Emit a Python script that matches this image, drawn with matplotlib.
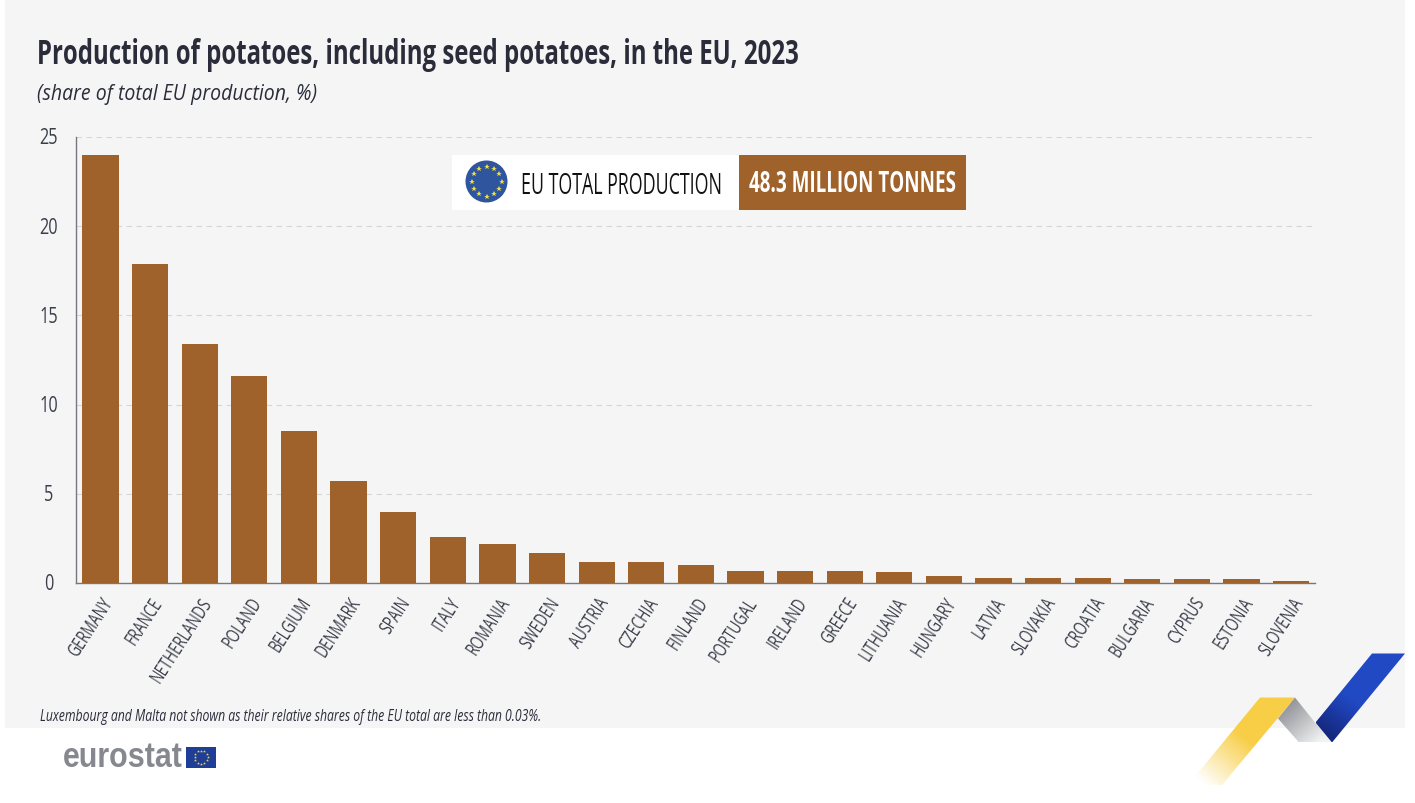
import matplotlib
matplotlib.use("Agg")
import matplotlib.pyplot as plt
import matplotlib.font_manager as fm
from matplotlib.font_manager import FontProperties
from matplotlib.transforms import ScaledTranslation
from fontTools.ttLib import TTFont
import numpy as np
from matplotlib.patches import Rectangle, Circle, Polygon

countries = ["GERMANY","FRANCE","NETHERLANDS","POLAND","BELGIUM","DENMARK","SPAIN","ITALY","ROMANIA","SWEDEN",
             "AUSTRIA","CZECHIA","FINLAND","PORTUGAL","IRELAND","GREECE","LITHUANIA","HUNGARY","LATVIA","SLOVAKIA",
             "CROATIA","BULGARIA","CYPRUS","ESTONIA","SLOVENIA"]
shares = [24.0,17.9,13.4,11.6,8.5,5.7,4.0,2.6,2.2,1.7,1.2,1.2,1.0,0.7,0.7,0.7,0.6,0.4,0.3,0.3,0.3,0.2,0.2,0.2,0.1]
yticks = [0,5,10,15,20,25]
title = "Production of potatoes, including seed potatoes, in the EU, 2023"
subtitle = "(share of total EU production, %)"
note = "Luxembourg and Malta not shown as their relative shares of the EU total are less than 0.03%."

# No condensed family is installed: derive one by scaling glyph widths of an installed font.
_cache = {}
def cond(scale, size, family='Open Sans', weight='normal', style='normal'):
    key = (scale, family, weight, style)
    if key not in _cache:
        src = fm.findfont(FontProperties(family=family, weight=weight, style=style))
        f = TTFont(src)
        glyf = f['glyf']
        for name in glyf.keys():
            g = glyf[name]
            if g.isComposite():
                for c in g.components:
                    c.x = int(round(c.x*scale))
            elif g.numberOfContours > 0:
                g.coordinates.scale((scale, 1))
                g.coordinates.toInt()
                g.recalcBounds(glyf)
        hmtx = f['hmtx']
        for name, (adv, lsb) in list(hmtx.metrics.items()):
            hmtx.metrics[name] = (int(round(adv*scale)), int(round(lsb*scale)))
        for tag in ('fpgm', 'prep', 'cvt ', 'hdmx', 'VDMX', 'LTSH', 'kern', 'GPOS', 'GSUB', 'GDEF', 'DSIG'):
            if tag in f:
                del f[tag]
        for name in glyf.keys():
            g = glyf[name]
            if hasattr(g, 'program'):
                g.program.fromBytecode(b'')
        path = f"cond_{len(_cache)}.ttf"
        f.save(path)
        _cache[key] = path
    return FontProperties(fname=_cache[key], size=size)

W, H = 1415, 804
BROWN = '#A0622B'
INK = '#3a3d4a'
DARK = '#2a2c3a'
fig = plt.figure(figsize=(W/100, H/100), dpi=100, facecolor='white')
bg = fig.add_axes([0,0,1,1]); bg.set_xlim(0,W); bg.set_ylim(H,0); bg.axis('off')
bg.add_patch(Rectangle((5,0),1400,728.5,color='#F5F5F5',lw=0))

ax = fig.add_axes([76/W, 1-584/H, (1315-76)/W, (584-138)/H])
ax.patch.set_alpha(0)
x = np.arange(len(countries))
ax.bar(x, shares, width=0.73, color=BROWN, zorder=3)
ax.set_xlim(-0.494, 24.48); ax.set_ylim(0,25)
ax.set_yticks(yticks); ax.set_yticklabels([str(v) for v in yticks], color=INK, ha='center', fontproperties=cond(0.78, 15))
ax.set_xticks(x); ax.set_xticklabels(countries, rotation=57, ha='right', rotation_mode='anchor', color=INK, fontproperties=cond(0.69, 14.5))
ax.tick_params(axis='both', length=0)
ax.tick_params(axis='y', pad=19.8)
ax.tick_params(axis='x', pad=7.5)
shift = ScaledTranslation(0, 1.5/100, fig.dpi_scale_trans)
for lab in ax.get_yticklabels():
    lab.set_transform(lab.get_transform() + shift)
ax.grid(axis='y', color='#d6d6d6', lw=0.8, ls=(0,(5,4)), zorder=0)
for s in ['top','right']: ax.spines[s].set_visible(False)
for s in ['left','bottom']:
    ax.spines[s].set_color('#77787f'); ax.spines[s].set_linewidth(1)

bg.text(37,64,title,color=DARK,va='baseline',fontproperties=cond(0.705, 24.5, weight='bold'))
bg.text(37,100,subtitle,color=DARK,va='baseline',fontproperties=cond(0.875, 16, style='italic'))
bg.text(40,721.5,note,color=DARK,va='baseline',fontproperties=cond(0.70, 12.6, style='italic'))

# callout drawn above the chart
top = fig.add_axes([0,0,1,1]); top.set_xlim(0,W); top.set_ylim(H,0); top.axis('off'); top.patch.set_alpha(0)
top.add_patch(Rectangle((452,155.5),287,55,color='white',lw=0))
top.add_patch(Rectangle((739,155.5),227,55,color=BROWN,lw=0))
top.add_patch(Circle((486.5,182.5),21,color='#2F559F',lw=0))
for a in np.arange(12)*np.pi/6:
    top.plot(486.5+15*np.sin(a),182.5-15*np.cos(a),marker='*',ms=4.2,color='#F5E13C',mew=0)
top.text(521,193.5,"EU TOTAL PRODUCTION",color='#111111',va='baseline',fontproperties=cond(0.612, 21))
top.text(749,192.5,"48.3 MILLION TONNES",color='white',va='baseline',fontproperties=cond(0.645, 21, weight='bold'))

# logo
top.text(63,767,"eurostat",color='#85888e',va='baseline',fontproperties=cond(0.875, 25, family='Liberation Sans', weight='bold'))
top.add_patch(Rectangle((186,747.5),30,21,color='#1F3E97',lw=0))
for a in np.arange(12)*np.pi/6:
    top.plot(201+6.5*np.sin(a),758-6.5*np.cos(a),marker='*',ms=2.2,color='#F5D33C',mew=0)

# ribbon decoration with gradients
def ribbon(poly, c0, c1, p0, p1):
    poly = np.array(poly,float)
    xs = np.linspace(poly[:,0].min(), poly[:,0].max(), 120)
    ys = np.linspace(poly[:,1].min(), poly[:,1].max(), 120)
    X,Y = np.meshgrid(xs,ys)
    d = np.array(p1,float)-np.array(p0,float)
    t = np.clip(((X-p0[0])*d[0]+(Y-p0[1])*d[1])/(d@d),0,1)[...,None]
    img = np.array(matplotlib.colors.to_rgb(c0))*(1-t)+np.array(matplotlib.colors.to_rgb(c1))*t
    im = top.imshow(img,extent=[xs[0],xs[-1],ys[-1],ys[0]],aspect='auto',zorder=2,interpolation='bilinear')
    im.set_clip_path(Polygon(poly,transform=top.transData))
ribbon([(1188,786),(1260,698.5),(1295,698.5),(1222,786)],'#FFFFFF','#F8CE46',(1205,786),(1245,738))
ribbon([(1295,698.5),(1278,719.5),(1299,743.5),(1332,743.5),(1315,723.5)],'#8F9096','#F2F3F3',(1285,705),(1320,743))
ribbon([(1315.5,723.5),(1372,654.5),(1405,654.5),(1332,743.5)],'#15287F','#2149C4',(1325,735),(1350,700))
top.set_xlim(0,W); top.set_ylim(H,0)

fig.savefig('out.png',dpi=100,facecolor='white')
